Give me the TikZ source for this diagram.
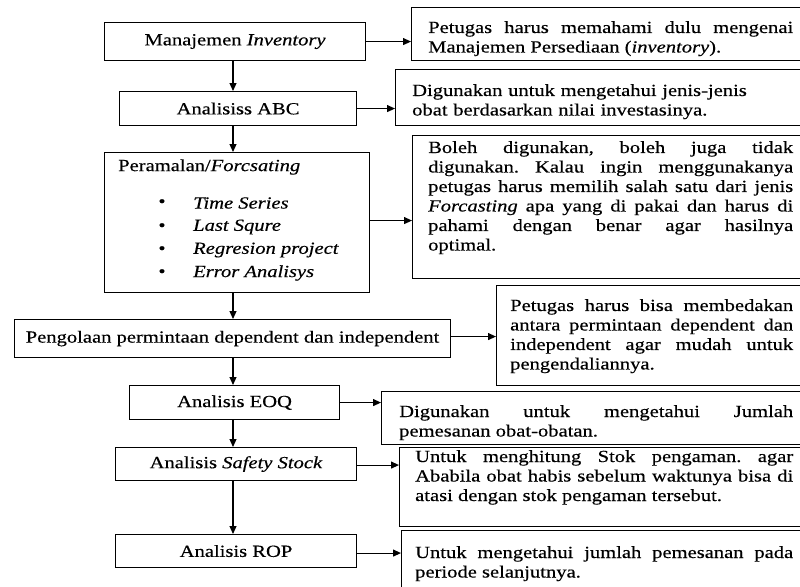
\documentclass[tikz,border=0pt]{standalone}
\usepackage{fontspec}
\setmainfont{Liberation Serif}[FakeStretch=1.21,FakeBold=0.4]
\usetikzlibrary{arrows.meta,calc}
\newcommand\fsz{\fontsize{17}{19.5}\selectfont\frenchspacing}
\tikzset{
  box/.style={draw, line width=1.1pt, inner sep=0pt, anchor=north west, font=\fsz},
  arr/.style={line width=1.1pt, -{Triangle[length=8pt,width=7pt]}},
  txt/.style={inner sep=0pt, anchor=north west, align=justify, font=\fsz},
  rtxt/.style={inner sep=0pt, anchor=north west, align=left, font=\fsz},
}
\begin{document}
\begin{tikzpicture}[x=1pt,y=-1pt]
\useasboundingbox (0,0) rectangle (800,586);
\coordinate (ax) at (233,0);
% left column
\node[box, minimum width=261pt, minimum height=38pt] (m) at (104,22) {Manajemen \textit{Inventory}};
\node[box, minimum width=237pt, minimum height=34pt] (abc) at (119,91) {Analisiss ABC};
\node[box, minimum width=265pt, minimum height=140pt] (p) at (104,152) {};
\node[inner sep=0pt, anchor=west, font=\fsz] (pt) at (118,167) {Peramalan/\textit{Forcsating}};
\foreach \y/\t [count=\i] in {203/Time Series,227/Last Squre,250/Regresion project,273/Error Analisys}{
  \node[inner sep=0pt, font=\fsz] (pb\i) at (162,\y) {\textbullet};
  \node[inner sep=0pt, anchor=west, font=\fsz] (pi\i) at (193,\y) {\textit{\t}};
}
\node[box, minimum width=436pt, minimum height=38pt] (pg) at (14,319) {Pengolaan permintaan dependent dan independent};
\node[box, minimum width=210pt, minimum height=34pt] (eoq) at (129,385) {Analisis EOQ};
\node[box, minimum width=241pt, minimum height=33pt] (ss) at (115,447) {Analisis \textit{Safety Stock}};
\node[box, minimum width=241pt, minimum height=33pt] (rop) at (115,534) {Analisis ROP};
% right column boxes
\node[box, minimum width=399pt, minimum height=53pt] (r1) at (411,7) {};
\node[box, minimum width=415pt, minimum height=56pt] (r2) at (395,69) {};
\node[box, minimum width=398pt, minimum height=143pt] (r3) at (412,135) {};
\node[box, minimum width=314pt, minimum height=100pt] (r4) at (496,285) {};
\node[box, minimum width=429pt, minimum height=53pt] (r5) at (381,391) {};
\node[box, minimum width=411pt, minimum height=79pt] (r6) at (399,447) {};
\node[box, minimum width=409pt, minimum height=70pt] (r7) at (401,530) {};
% right texts
\node[txt, text width=365pt] (t1) at (428,21) {Petugas harus memahami dulu mengenai\linebreak Manajemen Persediaan (\textit{inventory}).};
\node[rtxt, text width=380pt] (t2) at (412,84) {Digunakan untuk mengetahui jenis-jenis\\obat berdasarkan nilai investasinya.};
\node[txt, text width=365pt] (t3) at (428,141) {Boleh digunakan, boleh juga tidak\linebreak digunakan. Kalau ingin menggunakanya\linebreak petugas harus memilih salah satu dari jenis\linebreak \textit{Forcasting} apa yang di pakai dan harus di\linebreak pahami dengan benar agar hasilnya\linebreak optimal.};
\node[txt, text width=283pt] (t4) at (510,299) {Petugas harus bisa membedakan\linebreak antara permintaan dependent dan\linebreak independent agar mudah untuk\linebreak pengendaliannya.};
\node[txt, text width=394pt] (t5) at (399,405) {Digunakan untuk mengetahui Jumlah\linebreak pemesanan obat-obatan.};
\node[txt, text width=378pt] (t6) at (415,450) {Untuk menghitung Stok pengaman. agar\linebreak Ababila obat habis sebelum waktunya bisa di\linebreak atasi dengan stok pengaman tersebut.};
\node[txt, text width=378pt] (t7) at (415,546) {Untuk mengetahui jumlah pemesanan pada\linebreak periode selanjutnya.};
% vertical arrows
\draw[arr] (m.south -| ax) -- (abc.north -| ax);
\draw[arr] (abc.south -| ax) -- (p.north -| ax);
\draw[arr] (p.south -| ax) -- (pg.north -| ax);
\draw[arr] (pg.south -| ax) -- (eoq.north -| ax);
\draw[arr] (eoq.south -| ax) -- (ss.north -| ax);
\draw[arr] (ss.south -| ax) -- (rop.north -| ax);
% horizontal arrows
\draw[arr] (m.east) -- (m.east -| r1.west);
\draw[arr] (abc.east) -- (abc.east -| r2.west);
\draw[arr] ($(p.east)+(0,-2)$) -- ($(p.east -| r3.west)+(0,-2)$);
\draw[arr] ($(pg.east)+(0,-2)$) -- ($(pg.east -| r4.west)+(0,-2)$);
\draw[arr] (eoq.east) -- (eoq.east -| r5.west);
\draw[arr] ($(ss.east)+(0,1)$) -- ($(ss.east -| r6.west)+(0,1)$);
\draw[arr] ($(rop.east)+(0,2)$) -- ($(rop.east -| r7.west)+(0,2)$);
\end{tikzpicture}
\end{document}
